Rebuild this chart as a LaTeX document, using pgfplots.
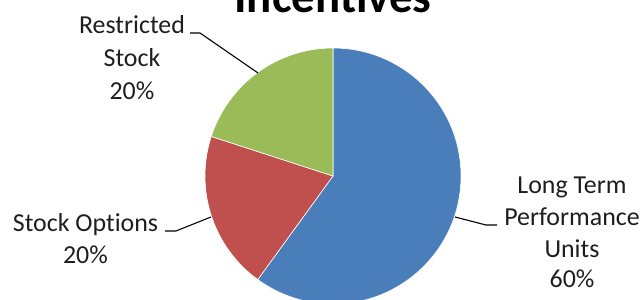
\documentclass[border=0pt]{standalone}
\usepackage{fontspec}
\setmainfont{Carlito}
\usepackage{pgfplots}
\pgfplotsset{compat=1.18}
\definecolor{cBlue}{HTML}{4A7EBB}
\definecolor{cRed}{HTML}{C0504D}
\definecolor{cGreen}{HTML}{9BBB59}
\definecolor{cText}{HTML}{1E1E1E}
% slice values (percent)
\def\vLTPU{60}
\def\vSO{20}
\def\vRS{20}
\begin{document}
\begin{tikzpicture}
\begin{axis}[name=ax, x=1bp, y=1bp, xmin=0, xmax=642, ymin=0, ymax=299,
  scale only axis, hide axis, clip=false, anchor=south west, at={(0,0)}]
% pie slices (centre 333,123; radius 128)
\fill[cBlue, draw=white, line width=0.6pt] (axis cs:333,123) -- +(90:128bp)
  arc[start angle=90, end angle={90-3.6*\vLTPU}, radius=128bp] -- cycle;
\fill[cRed, draw=white, line width=0.6pt] (axis cs:333,123) -- +({90-3.6*\vLTPU}:128bp)
  arc[start angle={90-3.6*\vLTPU}, end angle={90-3.6*(\vLTPU+\vSO)}, radius=128bp] -- cycle;
\fill[cGreen, draw=white, line width=0.6pt] (axis cs:333,123) -- +({90-3.6*(\vLTPU+\vSO)}:128bp)
  arc[start angle={90-3.6*(\vLTPU+\vSO)}, end angle={90-3.6*(\vLTPU+\vSO+\vRS)}, radius=128bp] -- cycle;
% leader lines
\addplot[black, line width=1.1pt, mark=none] coordinates {(190,266) (200,266) (258,226)};
\addplot[black, line width=1.1pt, mark=none] coordinates {(165,68) (176,68) (211,82)};
\addplot[black, line width=1.1pt, mark=none] coordinates {(455,82) (486,74) (497,74)};
% labels
\begin{scope}[every node/.style={anchor=base, inner sep=0pt, text=cText, font=\fontsize{26}{31}\selectfont}]
\node at (axis cs:132,265) {Restricted};
\node at (axis cs:132,233) {Stock};
\node at (axis cs:132,200) {20\%};
\node at (axis cs:85.5,68) {Stock Opt\kern0pt ions};
\node at (axis cs:85.5,36) {20\%};
\node at (axis cs:572,106) {Long Term};
\node at (axis cs:572,74) {Performance};
\node at (axis cs:572,42) {Units};
\node at (axis cs:572,12) {60\%};
\end{scope}
\node[anchor=base, inner sep=0pt, text=black, font=\bfseries\fontsize{47}{56}\selectfont] at (axis cs:333,286) {Incen\kern0pt tives};
\end{axis}
\pgfresetboundingbox
\path[use as bounding box] (ax.south west) rectangle (ax.north east);
\end{tikzpicture}
\end{document}
